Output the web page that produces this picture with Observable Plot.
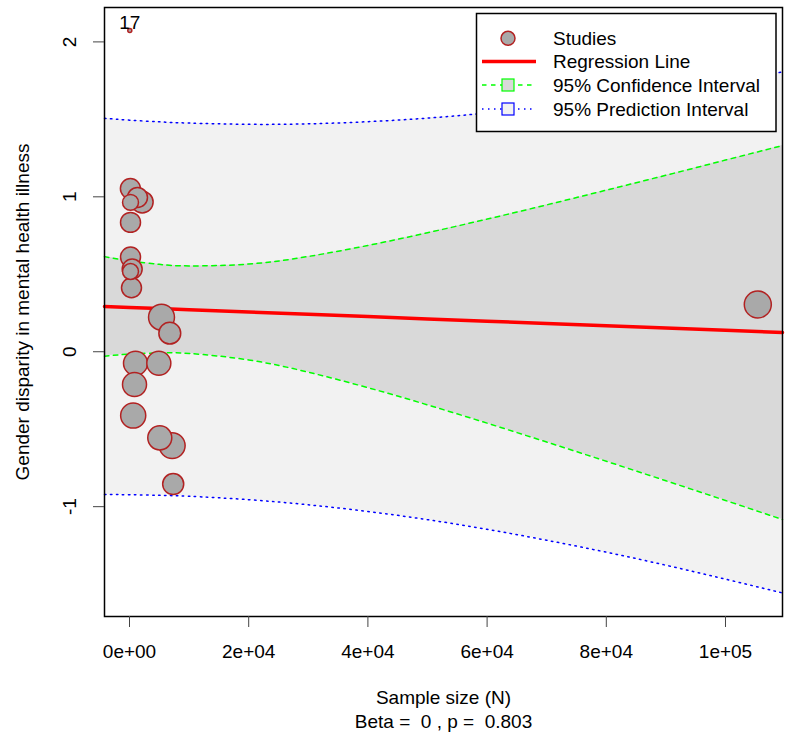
<!DOCTYPE html>
<html>
<head>
<meta charset="utf-8">
<script src="https://cdn.jsdelivr.net/npm/d3@7"></script>
<script src="https://cdn.jsdelivr.net/npm/@observablehq/plot@0.6"></script>
<style>
  body { margin: 0; background: #fff; }
  #chart svg { display: block; }
</style>
</head>
<body>
<div id="chart"></div>
<script>
// ---- Studies (bubble points) ----
const studyN      = [150, 1340, 2130, 170, 170, 170, 450, 170, 335, 5370, 6760, 1010, 4920, 840, 620, 5080, 7160, 7330, 105420, 50];
const studyES     = [1.053, 0.996, 0.966, 0.964, 0.835, 0.611, 0.534, 0.518, 0.413, 0.223, 0.120, -0.074, -0.074, -0.212, -0.412, -0.556, -0.606, -0.854, 0.305, 2.073];
const studyWeight = [74, 74, 81, 59, 74, 74, 74, 59, 74, 96, 81, 89, 89, 89, 93, 89, 96, 78, 100, 15];
const studyLabel  = ["", "", "", "", "", "", "", "", "", "", "", "", "", "", "", "", "", "", "", "17"];

// ---- Fitted regression line and bands (read along sample size) ----
const gridN   = [-4195, 0, 5000, 10000, 20000, 30000, 40000, 50000, 60000, 70000, 80000, 90000, 100000, 109564];
const fitted  = [0.292, 0.286, 0.279, 0.271, 0.257, 0.242, 0.227, 0.212, 0.197, 0.183, 0.168, 0.153, 0.138, 0.124];
const ciLower = [-0.029, -0.015, -0.007, -0.011, -0.053, -0.132, -0.232, -0.343, -0.461, -0.583, -0.707, -0.833, -0.960, -1.083];
const ciUpper = [0.614, 0.587, 0.564, 0.554, 0.566, 0.615, 0.686, 0.768, 0.856, 0.948, 1.043, 1.139, 1.237, 1.331];
const piLower = [-0.922, -0.923, -0.927, -0.933, -0.955, -0.988, -1.031, -1.084, -1.146, -1.217, -1.294, -1.378, -1.468, -1.557];
const piUpper = [1.507, 1.495, 1.484, 1.476, 1.468, 1.471, 1.485, 1.508, 1.541, 1.582, 1.630, 1.684, 1.744, 1.806];

// ---- Axes ----
const xTicks      = [0, 20000, 40000, 60000, 80000, 100000];
const xTickLabels = ["0e+00", "2e+04", "4e+04", "6e+04", "8e+04", "1e+05"];
const yTicks      = [-1, 0, 1, 2];
const yTickLabels = ["-1", "0", "1", "2"];
const xTitle   = "Sample size (N)";
const subTitle = "Beta =  0 , p =  0.803";
const yTitle   = "Gender disparity in mental health illness";
const legendLabels = ["Studies", "Regression Line", "95% Confidence Interval", "95% Prediction Interval"];

const FONT = '"Liberation Sans", Arial, Helvetica, sans-serif';
const FS = 19;

const band = gridN.map((n, i) => ({
  n, fit: fitted[i], ciL: ciLower[i], ciU: ciUpper[i], piL: piLower[i], piU: piUpper[i]
}));
const studies = studyN.map((n, i) => ({ n, es: studyES[i], w: studyWeight[i], label: studyLabel[i] }));
const xTickMap = new Map(xTicks.map((t, i) => [t, xTickLabels[i]]));

const chart = Plot.plot({
  width: 787,
  height: 737,
  marginLeft: 104,
  marginRight: 5,
  marginTop: 7,
  marginBottom: 121,
  style: { fontFamily: FONT, fontSize: FS + "px", background: "white", overflow: "visible", color: "black" },
  x: { domain: [-4195, 109564] },
  y: { domain: [-1.709, 2.222] },
  r: { type: "linear", domain: [0, 100], range: [0, 13.5] },
  marks: [
    Plot.areaY(band, { x: "n", y1: "piL", y2: "piU", fill: "#F2F2F2", curve: "natural" }),
    Plot.areaY(band, { x: "n", y1: "ciL", y2: "ciU", fill: "#D9D9D9", curve: "natural" }),
    Plot.lineY(band, { x: "n", y: "piL", stroke: "#0000FF", strokeWidth: 1.5, strokeDasharray: "1.5,4.5", curve: "natural" }),
    Plot.lineY(band, { x: "n", y: "piU", stroke: "#0000FF", strokeWidth: 1.5, strokeDasharray: "1.5,4.5", curve: "natural" }),
    Plot.lineY(band, { x: "n", y: "ciL", stroke: "#00FF00", strokeWidth: 1.5, strokeDasharray: "4.5,4.5", curve: "natural" }),
    Plot.lineY(band, { x: "n", y: "ciU", stroke: "#00FF00", strokeWidth: 1.5, strokeDasharray: "4.5,4.5", curve: "natural" }),
    Plot.lineY(band, { x: "n", y: "fit", stroke: "#FF0000", strokeWidth: 3.5 }),
    Plot.dot(studies, { x: "n", y: "es", r: "w", fill: "#A9A9A9", stroke: "#B22222", strokeWidth: 1.5 }),
    Plot.text(studies.filter(d => d.label), { x: "n", y: "es", text: "label", dy: -8, fontSize: FS, fill: "black" }),
    Plot.frame({ stroke: "black", strokeWidth: 1.5 }),
    Plot.axisX({ ticks: xTicks, tickFormat: d => xTickMap.get(d), tickSize: 11, tickPadding: 17, stroke: "#444", fill: "black", fontSize: FS, label: null }),
    Plot.axisY({ ticks: yTicks, tickFormat: () => "", tickSize: 11, stroke: "#444", label: null }),
    Plot.text(yTicks, { y: d => d, text: (d, i) => yTickLabels[i], frameAnchor: "left", textAnchor: "middle", lineAnchor: "middle", dx: -34.5, rotate: -90, fontSize: FS, fill: "black" }),
    Plot.text([yTitle], { frameAnchor: "left", textAnchor: "middle", lineAnchor: "middle", dx: -82, rotate: -90, text: d => d, fontSize: FS, fill: "black" }),
    Plot.text([xTitle], { frameAnchor: "bottom", textAnchor: "middle", lineAnchor: "middle", dy: 81, text: d => d, fontSize: FS, fill: "black" }),
    Plot.text([subTitle], { frameAnchor: "bottom", textAnchor: "middle", lineAnchor: "middle", dy: 105, text: d => d, fontSize: FS, fill: "black" })
  ]
});

document.getElementById("chart").appendChild(chart);

// ---- Legend (drawn inside the plot, top right) ----
const svg = d3.select(chart);
const lg = svg.append("g").attr("font-family", FONT).attr("font-size", FS).attr("text-anchor", "start");
lg.append("rect").attr("x", 476.5).attr("y", 13.5).attr("width", 299.5).attr("height", 118)
  .attr("fill", "white").attr("stroke", "black").attr("stroke-width", 1.5);
const rowY = [38.3, 61.5, 85, 109];
const symX = 508, lineX0 = 482, lineX1 = 536, textX = 553;
// Studies
lg.append("circle").attr("cx", symX).attr("cy", rowY[0]).attr("r", 7)
  .attr("fill", "#A9A9A9").attr("stroke", "#B22222").attr("stroke-width", 1.5);
// Regression line
lg.append("line").attr("x1", lineX0).attr("x2", lineX1).attr("y1", rowY[1]).attr("y2", rowY[1])
  .attr("stroke", "#FF0000").attr("stroke-width", 3.5);
// CI
lg.append("line").attr("x1", lineX0).attr("x2", lineX1).attr("y1", rowY[2]).attr("y2", rowY[2])
  .attr("stroke", "#00FF00").attr("stroke-width", 1.5).attr("stroke-dasharray", "4.5,4.5");
lg.append("rect").attr("x", symX - 6).attr("y", rowY[2] - 6).attr("width", 12).attr("height", 12)
  .attr("fill", "#D9D9D9").attr("stroke", "#00FF00").attr("stroke-width", 1.2);
// PI
lg.append("line").attr("x1", lineX0).attr("x2", lineX1).attr("y1", rowY[3]).attr("y2", rowY[3])
  .attr("stroke", "#0000FF").attr("stroke-width", 1.5).attr("stroke-dasharray", "1.5,4.5");
lg.append("rect").attr("x", symX - 6).attr("y", rowY[3] - 6).attr("width", 12).attr("height", 12)
  .attr("fill", "#F2F2F2").attr("stroke", "#0000FF").attr("stroke-width", 1.2);
legendLabels.forEach((t, i) => {
  lg.append("text").attr("x", textX).attr("y", rowY[i]).attr("dy", "0.35em").attr("fill", "black").text(t);
});
</script>
</body>
</html>
